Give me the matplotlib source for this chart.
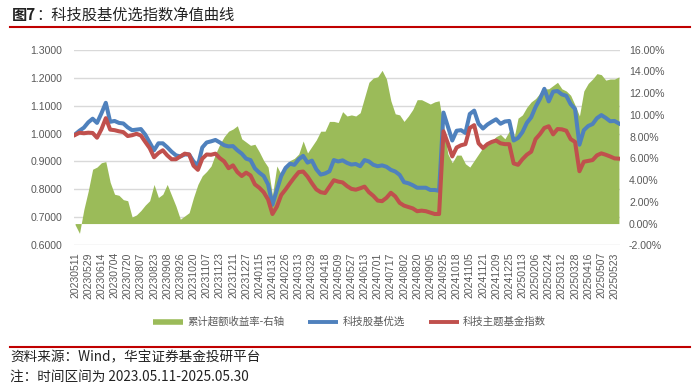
import numpy as np
import matplotlib
matplotlib.use("Agg")
import matplotlib.pyplot as plt
from matplotlib.lines import Line2D
from matplotlib.ticker import FuncFormatter

plt.rcParams['font.family'] = ['Liberation Sans', 'Noto Sans CJK SC', 'DejaVu Sans']

# ---------------- data ----------------
tick_labels = [
    "20230511", "20230529", "20230614", "20230704", "20230720", "20230807",
    "20230823", "20230908", "20230926", "20231020", "20231107", "20231123",
    "20231211", "20231227", "20240115", "20240131", "20240226", "20240313",
    "20240329", "20240418", "20240509", "20240527", "20240613", "20240701",
    "20240717", "20240802", "20240820", "20240905", "20240925", "20241018",
    "20241105", "20241121", "20241209", "20241225", "20250113", "20250206",
    "20250224", "20250312", "20250328", "20250416", "20250507", "20250523",
]
TICK_STEP = 12   # trading days between labels
STEP = 4         # trading days between samples below

# 科技股基优选 (left axis), sampled every 4 trading days
blue = [
    0.997, 1.010, 1.021, 1.040, 1.053, 1.038, 1.072, 1.110, 1.042, 1.045,
    1.038, 1.036, 1.022, 1.012, 1.014, 1.016, 0.996, 0.968, 0.940, 0.965,
    0.965, 0.951, 0.935, 0.922, 0.918, 0.925, 0.925, 0.900, 0.885, 0.950,
    0.968, 0.972, 0.977, 0.968, 0.958, 0.954, 0.955, 0.940, 0.928, 0.910,
    0.905, 0.875, 0.860, 0.848, 0.818, 0.745, 0.798, 0.848, 0.877, 0.892,
    0.888, 0.908, 0.920, 0.896, 0.903, 0.872, 0.853, 0.857, 0.865, 0.905,
    0.900, 0.904, 0.895, 0.889, 0.891, 0.883, 0.905, 0.900, 0.888, 0.883,
    0.886, 0.881, 0.870, 0.864, 0.852, 0.826, 0.822, 0.815, 0.806, 0.806,
    0.806, 0.798, 0.798, 0.795, 1.075, 1.025, 0.975, 1.010, 1.012, 1.002,
    1.070, 1.082, 1.035, 1.018, 1.032, 1.042, 1.051, 1.035, 1.043, 1.045,
    0.975, 0.984, 1.005, 1.038, 1.058, 1.095, 1.124, 1.160, 1.115, 1.150,
    1.152, 1.140, 1.135, 1.105, 1.088, 0.960, 1.012, 1.027, 1.034, 1.055,
    1.066, 1.056, 1.044, 1.045, 1.036,
]

# 科技主题基金指数 (left axis)
red = [
    0.995, 1.003, 1.001, 1.003, 1.002, 0.985, 1.015, 1.055, 1.014, 1.012,
    1.008, 1.005, 0.991, 0.994, 0.999, 0.993, 0.970, 0.948, 0.915, 0.930,
    0.940, 0.922, 0.908, 0.908, 0.918, 0.928, 0.925, 0.885, 0.870, 0.910,
    0.925, 0.924, 0.928, 0.912, 0.900, 0.876, 0.886, 0.862, 0.848, 0.860,
    0.850, 0.818, 0.806, 0.790, 0.764, 0.712, 0.738, 0.780, 0.800, 0.822,
    0.843, 0.862, 0.864, 0.846, 0.822, 0.800, 0.790, 0.787, 0.810, 0.833,
    0.828, 0.825, 0.812, 0.802, 0.799, 0.804, 0.810, 0.790, 0.777, 0.760,
    0.758, 0.770, 0.788, 0.775, 0.752, 0.742, 0.737, 0.732, 0.722, 0.724,
    0.722, 0.717, 0.712, 0.712, 1.008, 0.965, 0.918, 0.950, 0.958, 0.962,
    1.020, 1.030, 0.965, 0.948, 0.962, 0.970, 0.975, 0.965, 0.962, 0.962,
    0.893, 0.888, 0.908, 0.924, 0.935, 0.980, 0.998, 1.020, 1.026, 0.997,
    1.016, 1.015, 1.010, 0.980, 0.970, 0.865, 0.899, 0.902, 0.905, 0.922,
    0.929, 0.924, 0.918, 0.911, 0.910,
]

# 累计超额收益率 (right axis, %)
excess = [
    -0.1, -0.9, 1.3, 3.0, 5.0, 5.2, 5.6, 5.7, 3.8, 2.7,
    2.6, 2.2, 2.1, 0.6, 0.8, 1.2, 1.7, 2.1, 3.6, 2.4,
    2.7, 3.6, 2.6, 1.6, 0.4, 0.7, 1.0, 2.4, 3.6, 4.4,
    4.8, 5.3, 6.4, 7.3, 8.0, 8.5, 8.7, 9.0, 7.8, 7.5,
    7.2, 7.3, 6.6, 5.8, 5.2, 2.6, 5.3, 4.5, 5.3, 5.8,
    6.0, 6.4, 7.6, 6.5, 7.1, 7.7, 8.5, 8.5, 9.4, 9.4,
    9.3, 10.3, 9.9, 10.0, 9.9, 10.2, 11.6, 13.0, 13.4, 13.5,
    14.1, 13.3, 11.3, 10.1, 10.0, 9.4, 9.9, 10.5, 11.4, 11.4,
    11.2, 11.0, 11.2, 11.3, 9.0, 6.4, 5.6, 6.3, 6.3, 5.5,
    5.2, 5.8, 6.4, 7.0, 7.4, 7.6, 8.0, 8.2, 7.8, 8.5,
    7.7, 9.7, 10.0, 10.7, 11.2, 11.5, 12.0, 12.4, 12.4, 12.7,
    13.0, 12.4, 12.2, 11.8, 10.9, 9.9, 12.2, 12.9, 13.3, 13.8,
    13.7, 13.2, 13.3, 13.3, 13.5,
]

legend_labels = ["累计超额收益率-右轴", "科技股基优选", "科技主题基金指数"]
title_head = "图7"
title_rest = "：科技股基优选指数净值曲线"
source = "资料来源：Wind，华宝证券基金投研平台"
note = "注：时间区间为 2023.05.11-2025.05.30"

# ---------------- style ----------------
GREEN = "#9BBB59"
BLUE = "#4F81BD"
RED = "#C0504D"
GRID = "#D9D9D9"
TXT = "#595959"
CJK = ['Noto Sans CJK SC', 'DejaVu Sans']

W, H = 700, 390
fig = plt.figure(figsize=(W / 100, H / 100), dpi=100)

L, R = 74 / W, 620 / W
B, T = (H - 245.3) / H, (H - 49.7) / H
ax = fig.add_axes([L, B, R - L, T - B])
ax2 = ax.twinx()
ax3 = ax.twinx()
ax.set_zorder(1)
ax2.set_zorder(2)
ax3.set_zorder(3)
ax2.patch.set_visible(False)
ax3.patch.set_visible(False)

x = np.arange(len(blue)) * STEP
xe = np.arange(len(excess)) * STEP

# left axis grid
ax.set_ylim(0.6, 1.3)
ax.set_yticks(np.arange(0.6, 1.3001, 0.1))
ax.yaxis.set_major_formatter(FuncFormatter(lambda v, p: f"{v:.4f}"))
ax.grid(axis='y', color=GRID, lw=1.0)
ax.grid(axis='x', visible=False)
ax.tick_params(axis='y', length=0, pad=8.5, labelsize=7.6, colors=TXT)

# right axis area
ax2.fill_between(xe, 0, excess, color=GREEN, lw=0)
ax2.set_ylim(-2, 16)
ax2.set_yticks(np.arange(-2, 16.01, 2))
ax2.yaxis.set_major_formatter(FuncFormatter(lambda v, p: f"{v:.2f}%"))
ax2.tick_params(axis='y', length=0, pad=6.5, labelsize=7.6, colors=TXT)

# lines
ax3.set_ylim(0.6, 1.3)
ax3.plot(x, blue, color=BLUE, lw=2.9, solid_joinstyle='round')
ax3.plot(x, red, color=RED, lw=2.9, solid_joinstyle='round')
ax3.set_yticks([])
ax3.tick_params(right=False, labelright=False)

ax.set_xlim(-1, (len(blue) - 1) * STEP + 1)
ax.set_xticks(np.arange(len(tick_labels)) * TICK_STEP)
ax.set_xticklabels(tick_labels, rotation=90)
ax.tick_params(axis='x', length=0, pad=5, labelsize=7.5, colors=TXT)

for a in (ax, ax2, ax3):
    for s in a.spines.values():
        s.set_visible(False)

# legend
handles = [
    Line2D([], [], color=GREEN, lw=4.0, solid_capstyle='butt'),
    Line2D([], [], color=BLUE, lw=2.8, solid_capstyle='butt'),
    Line2D([], [], color=RED, lw=2.8, solid_capstyle='butt'),
]
leg = fig.legend(handles, legend_labels, loc='center', bbox_to_anchor=(0.499, 1 - 322 / H),
                 ncol=3, frameon=False, fontsize=7.5, handlelength=2.9,
                 handletextpad=0.4, columnspacing=2.3, prop={'family': CJK, 'size': 7.5})
for t in leg.get_texts():
    t.set_color(TXT)

# title & footer
th = fig.text(12 / W, 1 - 15 / H, title_head, fontsize=11, va='center', ha='left',
              family=CJK, color='#222222', fontweight='bold')
fig.canvas.draw()
bb = th.get_window_extent(renderer=fig.canvas.get_renderer())
fig.text(bb.x1 / W, 1 - 15 / H, title_rest, fontsize=11, va='center', ha='left',
         family=CJK, color='#222222')
fig.add_artist(Line2D([10 / W, 690 / W], [1 - 26.5 / H] * 2, color='#C00000', lw=1.5))
fig.add_artist(Line2D([10 / W, 690 / W], [1 - 347 / H] * 2, color='#C00000', lw=1.5))
fig.text(10 / W, 1 - 357 / H, source, fontsize=9.8, va='center', ha='left', family=CJK, color='#222222')
fig.text(10 / W, 1 - 377 / H, note, fontsize=9.8, va='center', ha='left', family=CJK, color='#222222')

fig.savefig("out.png", dpi=100)
